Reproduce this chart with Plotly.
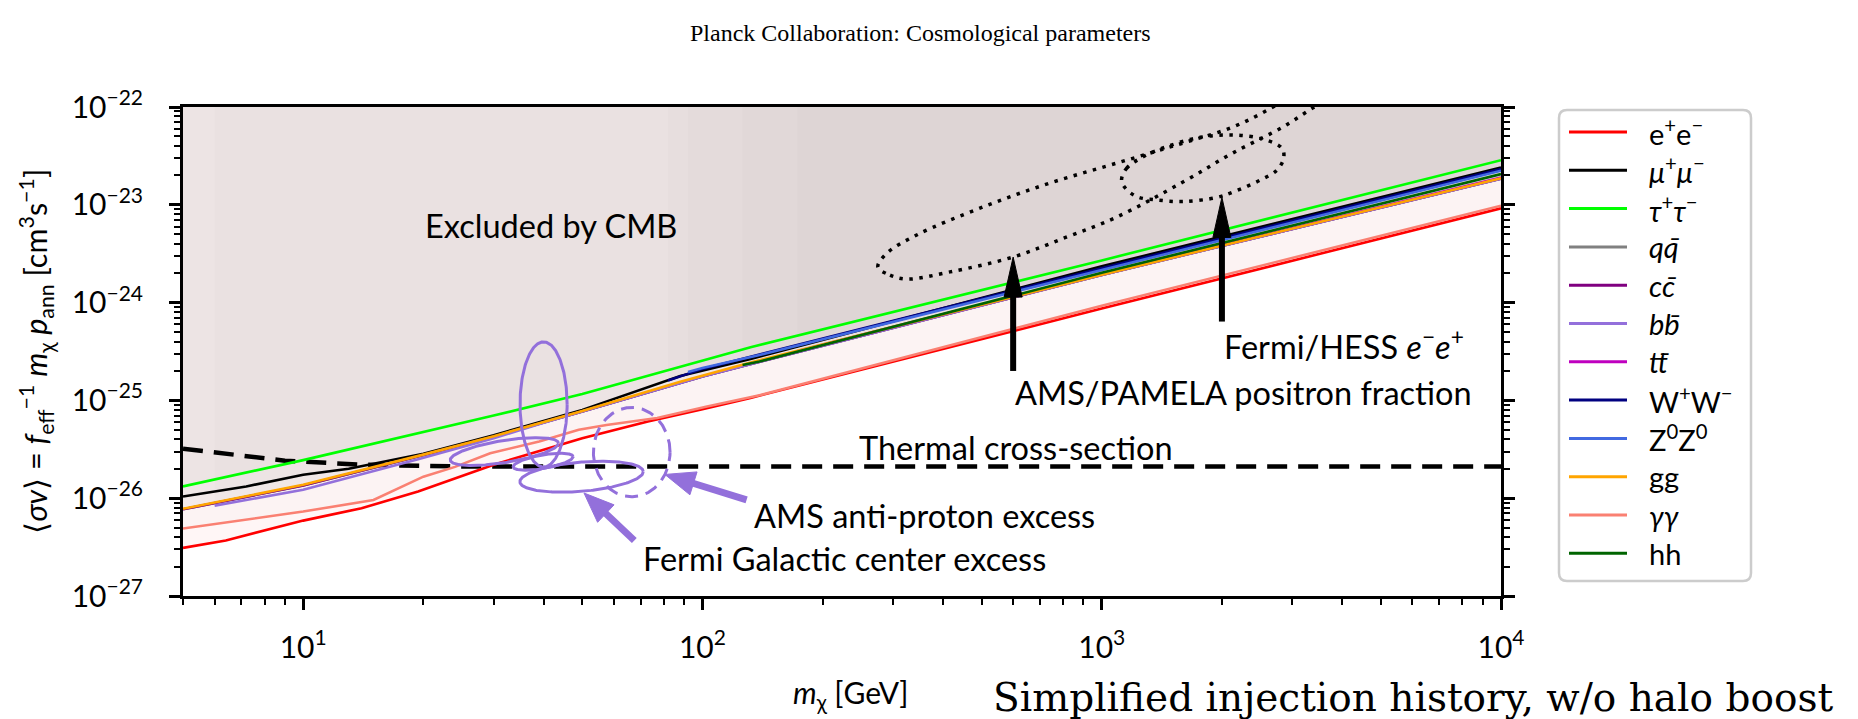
import math
import numpy as np
import plotly.graph_objects as go

# ---------------- channel curves: m_chi [GeV], <sigma v> [cm^3 s^-1] ----------------
EE_M = [5, 6.4, 10, 14, 19.4, 30, 50, 73, 100, 132, 1000, 10000]
EE_S = [3.1e-27, 3.7e-27, 5.9e-27, 7.9e-27, 1.17e-26, 2.2e-26, 4.1e-26, 6.1e-26, 8.1e-26, 1.06e-25, 8.7e-25, 9.2e-24]
MUMU_M = [5, 7.2, 10, 13, 20, 30, 50, 88, 132, 1000, 10000]
MUMU_S = [1.04e-26, 1.32e-26, 1.74e-26, 2.0e-26, 2.85e-26, 4.4e-26, 8.0e-26, 1.78e-25, 2.65e-25, 2.35e-24, 2.41e-23]
TAUTAU_M = [5, 10, 30, 50, 132, 1000, 10000]
TAUTAU_S = [1.32e-26, 2.45e-26, 7.0e-26, 1.16e-25, 3.5e-25, 2.7e-24, 2.86e-23]
QQ_M = [5, 10, 20, 30, 50, 100, 1000, 10000]
QQ_S = [7.7e-27, 1.35e-26, 2.75e-26, 4.25e-26, 7.7e-26, 1.76e-25, 1.92e-24, 1.85e-23]
CC_M = [5, 10, 20, 30, 50, 100, 1000, 10000]
CC_S = [7.7e-27, 1.35e-26, 2.76e-26, 4.26e-26, 7.7e-26, 1.76e-25, 1.92e-24, 1.85e-23]
BB_M = [6, 10, 19.4, 30, 40, 50, 100, 1000, 10000]
BB_S = [8.4e-27, 1.22e-26, 2.5e-26, 4.1e-26, 5.9e-26, 7.7e-26, 1.76e-25, 1.92e-24, 1.85e-23]
TT_M = [173, 1000, 10000]
TT_S = [3.2e-25, 1.95e-24, 1.9e-23]
WW_M = [82, 100, 1000, 10000]
WW_S = [1.6e-25, 2.1e-25, 2.25e-24, 2.32e-23]
ZZ_M = [92, 100, 139, 1000, 10000]
ZZ_S = [1.95e-25, 2.14e-25, 2.91e-25, 2.15e-24, 2.23e-23]
GG_M = [5, 10, 20, 30, 50, 88, 132, 1000, 10000]
GG_S = [7.8e-27, 1.37e-26, 2.79e-26, 4.3e-26, 7.8e-26, 1.55e-25, 2.44e-25, 1.93e-24, 1.87e-23]
AA_M = [5, 10, 15, 20, 24, 29.4, 39, 49, 57.5, 77, 102, 139, 1000, 10000]
AA_S = [4.9e-27, 7.3e-27, 9.6e-27, 1.66e-26, 2.09e-26, 2.88e-26, 3.8e-26, 5.0e-26, 5.6e-26, 6.6e-26, 8.6e-26, 1.13e-25, 9.3e-25, 9.8e-24]
HH_M = [126, 139, 1000, 10000]
HH_S = [2.3e-25, 2.5e-25, 2.02e-24, 2.06e-23]

LABELS = ["e<sup>+</sup>e<sup>−</sup>", "<i>μ</i><sup>+</sup><i>μ</i><sup>−</sup>",
          "<i>τ</i><sup>+</sup><i>τ</i><sup>−</sup>", "<i>q</i><i>q̄</i>", "<i>c</i><i>c̄</i>",
          "<i>b</i><i>b̄</i>", "<i>t</i><i>t̄</i>", "W<sup>+</sup>W<sup>−</sup>",
          "Z<sup>0</sup>Z<sup>0</sup>", "gg", "<i>γγ</i>", "hh"]
CURVES_M = [EE_M, MUMU_M, TAUTAU_M, QQ_M, CC_M, BB_M, TT_M, WW_M, ZZ_M, GG_M, AA_M, HH_M]
CURVES_S = [EE_S, MUMU_S, TAUTAU_S, QQ_S, CC_S, BB_S, TT_S, WW_S, ZZ_S, GG_S, AA_S, HH_S]

# thermal relic cross-section
THERMAL_M = [5, 9, 14, 25, 10000]
THERMAL_S = [3.21e-26, 2.42e-26, 2.2e-26, 2.11e-26, 2.11e-26]

# Fermi GC excess ellipses (centre m, centre sigma, half-width [dex], half-height [dex], tilt [dex])
GCE_M = [40.0, 31.9, 39.9, 49.8]
GCE_S = [9.1e-26, 3.0e-26, 2.36e-26, 1.66e-26]
GCE_HW = [0.059, 0.1355, 0.075, 0.1545]
GCE_HH = [0.64, 0.114, 0.07, 0.15]
GCE_TILT = [0.0, 0.085, 0.051, 0.051]
# AMS anti-proton excess region
PBAR_M = [66.5]
PBAR_S = [2.96e-26]
PBAR_HW = [0.096]
PBAR_HH = [0.457]

# AMS/PAMELA positron-fraction contour (traced)
AMSP_M = [275, 295, 325, 417, 599, 818, 1091, 1597, 2131, 2843, 3381, 3953, 3690, 3230,
          2684, 2131, 1597, 1091, 742, 504, 344, 290, 275]
AMSP_S = [2.31e-24, 1.91e-24, 1.74e-24, 2.06e-24, 2.92e-24, 4.69e-24, 7.5e-24, 1.71e-23, 3.39e-23,
          6.25e-23, 9.8e-23, 1.42e-22, 1.8e-22, 1.64e-22, 1.0e-22, 6.25e-23, 4.28e-23, 2.67e-23,
          1.67e-23, 9.5e-24, 4.91e-24, 3.21e-24, 2.31e-24]
# Fermi/HESS e-e+ contour (traced)
FH_M = [1121, 1154, 1270, 1454, 1766, 2140, 2544, 2829, 2855, 2748, 2496, 2140, 1945, 1604,
        1376, 1226, 1146, 1121]
FH_S = [1.79e-23, 2.36e-23, 3.1e-23, 3.93e-23, 4.9e-23, 5.17e-23, 4.68e-23, 3.78e-23, 2.99e-23,
        2.27e-23, 1.79e-23, 1.36e-23, 1.19e-23, 1.08e-23, 1.12e-23, 1.21e-23, 1.48e-23, 1.79e-23]

# arrows (tail m, tail sigma, tip m, tip sigma)
BLACK_ARROWS = [(600, 2.0e-25, 600, 2.92e-24), (2000, 6.4e-25, 2000, 1.19e-23)]
PURPLE_ARROWS = [(67.5, 3.7e-27, 50.5, 1.13e-26), (129, 9.6e-27, 80.5, 1.75e-26)]

# text labels (x anchor m, y sigma)
TEXTS = [("Excluded by CMB", 41.8, 6.2e-24, "center"),
         ("Thermal cross-section", 610, 3.3e-26, "center"),
         ("AMS/PAMELA positron fraction", 600, 1.2e-25, "left"),
         ("Fermi/HESS <i>e</i><sup>−</sup><i>e</i><sup>+</sup>", 2000, 3.75e-25, "left"),
         ("AMS anti-proton excess", 133, 6.6e-27, "left"),
         ("Fermi Galactic center excess", 70, 2.4e-27, "left")]

X_TICKS = [10, 100, 1000, 10000]
X_TICKTEXT = ["10<sup>1</sup>", "10<sup>2</sup>", "10<sup>3</sup>", "10<sup>4</sup>"]
Y_TICKS = [1e-27, 1e-26, 1e-25, 1e-24, 1e-23, 1e-22]
Y_TICKTEXT = ["10<sup>−27</sup>", "10<sup>−26</sup>", "10<sup>−25</sup>", "10<sup>−24</sup>",
              "10<sup>−23</sup>", "10<sup>−22</sup>"]

# ---------------- styling ----------------
COLORS = ["#ff0000", "#000000", "#00ff00", "#808080", "#800080", "#9370db", "#bf00bf",
          "#000080", "#4169e1", "#ffa500", "#fa8072", "#006400"]
FILL_COLORS = ["rgba(255,0,0,0.035)"] + ["rgba(118,116,108,0.0207)"] * 11
PURPLE = "#9370db"
W, H = 1858, 719
PL, PR, PT, PB = 183, 1501, 107, 596
XLO, XHI = math.log10(5), 4.0
YLO, YHI = -27.0, -22.0
PXX = (PR - PL) / (XHI - XLO)
PXY = (PB - PT) / (YHI - YLO)
SANS = "Lato"


def px2paper(x, y):
    return (x - PL) / (PR - PL), (PB - y) / (PB - PT)


fig = go.Figure()

# exclusion shading (each channel excludes the region above its curve)
for m, s, fc in zip(CURVES_M, CURVES_S, FILL_COLORS):
    xs = list(m) + list(m[::-1])
    ys = list(s) + [10 ** YHI] * len(m)
    fig.add_trace(go.Scatter(x=xs, y=ys, fill="toself", fillcolor=fc,
                             line=dict(width=0), mode="lines", hoverinfo="skip", showlegend=False))

# thermal line
fig.add_trace(go.Scatter(x=THERMAL_M, y=THERMAL_S, mode="lines",
                         line=dict(color="black", width=4.5, dash="20px,11px"), showlegend=False))

# channel curves
for m, s, c, lab in zip(CURVES_M, CURVES_S, COLORS, LABELS):
    fig.add_trace(go.Scatter(x=m, y=s, mode="lines", name=lab, line=dict(color=c, width=2.6),
                             showlegend=False))

# dotted contours
for mm, ss in [(AMSP_M, AMSP_S), (FH_M, FH_S)]:
    fig.add_trace(go.Scatter(x=mm, y=ss, mode="lines",
                             line=dict(color="black", width=3.5, dash="3.5px,6.5px", shape="spline",
                                       smoothing=1.0), showlegend=False, hoverinfo="skip"))

# ellipses
t = np.linspace(0, 2 * np.pi, 241)
for mc, sc, hw, hh, tl in zip(GCE_M, GCE_S, GCE_HW, GCE_HH, GCE_TILT):
    u = math.log10(mc) + hw * np.cos(t)
    v = math.log10(sc) + hh * np.sin(t) + tl * np.cos(t)
    fig.add_trace(go.Scatter(x=10 ** u, y=10 ** v, mode="lines", line=dict(color=PURPLE, width=3),
                             showlegend=False, hoverinfo="skip"))
for mc, sc, hw, hh in zip(PBAR_M, PBAR_S, PBAR_HW, PBAR_HH):
    u = math.log10(mc) + hw * np.cos(t)
    v = math.log10(sc) + hh * np.sin(t)
    fig.add_trace(go.Scatter(x=10 ** u, y=10 ** v, mode="lines",
                             line=dict(color=PURPLE, width=3, dash="13px,8px"),
                             showlegend=False, hoverinfo="skip"))


def add_arrow(m0, s0, m1, s1, color, shaft_w, head_len, head_w):
    X0, Y0 = math.log10(m0) * PXX, math.log10(s0) * PXY
    X1, Y1 = math.log10(m1) * PXX, math.log10(s1) * PXY
    L = math.hypot(X1 - X0, Y1 - Y0)
    ux, uy = (X1 - X0) / L, (Y1 - Y0) / L
    bx, by = X1 - ux * head_len, Y1 - uy * head_len
    nx, ny = -uy, ux

    def back(X, Y):
        return 10 ** (X / PXX), 10 ** (Y / PXY)
    p0 = back(X0, Y0)
    p1 = back(bx + ux * 3, by + uy * 3)
    fig.add_trace(go.Scatter(x=[p0[0], p1[0]], y=[p0[1], p1[1]], mode="lines",
                             line=dict(color=color, width=shaft_w), showlegend=False, hoverinfo="skip"))
    tri = [back(X1, Y1), back(bx + nx * head_w / 2, by + ny * head_w / 2),
           back(bx - nx * head_w / 2, by - ny * head_w / 2), back(X1, Y1)]
    fig.add_trace(go.Scatter(x=[p[0] for p in tri], y=[p[1] for p in tri], mode="lines",
                             fill="toself", fillcolor=color, line=dict(color=color, width=1),
                             showlegend=False, hoverinfo="skip"))


for a in BLACK_ARROWS:
    add_arrow(*a, color="black", shaft_w=6, head_len=40, head_w=18)
for a in PURPLE_ARROWS:
    add_arrow(*a, color=PURPLE, shaft_w=7, head_len=30, head_w=24)

annotations = []
for txt, m, s, anc in TEXTS:
    annotations.append(dict(x=math.log10(m), y=math.log10(s), xref="x", yref="y", text=txt,
                            showarrow=False, xanchor=anc, yanchor="middle",
                            font=dict(family=SANS, size=32.5, color="black")))

# legend (drawn manually to match matplotlib layout)
shapes = []
LX0, LX1, LY0, LY1 = 1559, 1751, 110, 581
r = 8
ax0, ay0 = px2paper(LX0, LY0)
ax1, ay1 = px2paper(LX1, LY1)
rx = r / (PR - PL)
ry = r / (PB - PT)
path = ("M {a},{b} L {c},{b} Q {x1},{b} {x1},{d} L {x1},{e} Q {x1},{y1} {c},{y1} "
        "L {a},{y1} Q {x0},{y1} {x0},{e} L {x0},{d} Q {x0},{b} {a},{b} Z").format(
    a=ax0 + rx, b=ay0, c=ax1 - rx, d=ay0 - ry, e=ay1 + ry, x0=ax0, x1=ax1, y1=ay1)
shapes.append(dict(type="path", path=path, xref="paper", yref="paper",
                   line=dict(color="#cccccc", width=2.5), fillcolor="rgba(255,255,255,0.85)"))
for i, (lab, c) in enumerate(zip(LABELS, COLORS)):
    yy = 132 + 38.3 * i
    xa, ya = px2paper(1569, yy)
    xb, _ = px2paper(1627, yy)
    shapes.append(dict(type="line", xref="paper", yref="paper", x0=xa, x1=xb, y0=ya, y1=ya,
                       line=dict(color=c, width=3)))
    xt, _ = px2paper(1647, yy)
    annotations.append(dict(x=xt, y=ya, xref="paper", yref="paper", text=lab, showarrow=False,
                            xanchor="left", yanchor="middle",
                            font=dict(family=SANS, size=29, color="black")))

# axis titles, page header and caption
xl, yl = px2paper(850, 694)
annotations.append(dict(x=xl, y=yl, xref="paper", yref="paper", text="<i>m</i><sub>χ</sub> [GeV]",
                        showarrow=False, xanchor="center", yanchor="middle",
                        font=dict(family=SANS, size=30, color="black")))
xy, _ = px2paper(36, 0)
annotations.append(dict(x=xy, y=0.5, xref="paper", yref="paper", textangle=-90,
                        text="⟨<i>σv</i>⟩ = <i>f</i><sub>eff</sub><sup>−1</sup> <i>m</i><sub>χ</sub> "
                             "<i>p</i><sub>ann</sub> [cm<sup>3</sup>s<sup>−1</sup>]",
                        showarrow=False, xanchor="center", yanchor="middle",
                        font=dict(family=SANS, size=30.5, color="black")))
xt, yt = px2paper(920, 33)
annotations.append(dict(x=xt, y=yt, xref="paper", yref="paper",
                        text="Planck Collaboration: Cosmological parameters", showarrow=False,
                        xanchor="center", yanchor="middle",
                        font=dict(family="Liberation Serif", size=24, color="black")))
xc, yc = px2paper(1413, 697)
annotations.append(dict(x=xc, y=yc, xref="paper", yref="paper",
                        text="Simplified injection history, w/o halo boost", showarrow=False,
                        xanchor="center", yanchor="middle",
                        font=dict(family="DejaVu Serif", size=39, color="black")))

x_minor = [d * 10 ** k for k in range(0, 4) for d in range(2, 10) if 5 <= d * 10 ** k <= 10000]
y_minor = [d * 10.0 ** k for k in range(-27, -22) for d in range(2, 10)]

fig.update_layout(width=W, height=H, margin=dict(l=PL, r=W - PR, t=PT, b=H - PB),
                  paper_bgcolor="white", plot_bgcolor="white", showlegend=False,
                  font=dict(family=SANS, size=30, color="black"),
                  annotations=annotations, shapes=shapes)
fig.update_xaxes(type="log", range=[XLO, XHI], showline=True, linecolor="black", linewidth=3,
                 mirror=True, ticks="outside", ticklen=11, tickwidth=2.5, tickcolor="black",
                 tickmode="array", tickvals=X_TICKS, ticktext=X_TICKTEXT, showgrid=False,
                 zeroline=False, ticklabelstandoff=12, tickfont=dict(family=SANS, size=30),
                 minor=dict(ticks="outside", ticklen=6, tickwidth=1.8, tickcolor="black",
                            tickmode="array", tickvals=x_minor, showgrid=False))
fig.update_yaxes(type="log", range=[YLO, YHI], showline=True, linecolor="black", linewidth=3,
                 mirror="ticks", ticks="outside", ticklen=11, tickwidth=2.5, tickcolor="black",
                 tickmode="array", tickvals=Y_TICKS, ticktext=Y_TICKTEXT, showgrid=False,
                 zeroline=False, ticklabelstandoff=20, tickfont=dict(family=SANS, size=30),
                 minor=dict(ticks="outside", ticklen=6, tickwidth=1.8, tickcolor="black",
                            tickmode="array", tickvals=y_minor, showgrid=False))

fig.write_html("out.html")
